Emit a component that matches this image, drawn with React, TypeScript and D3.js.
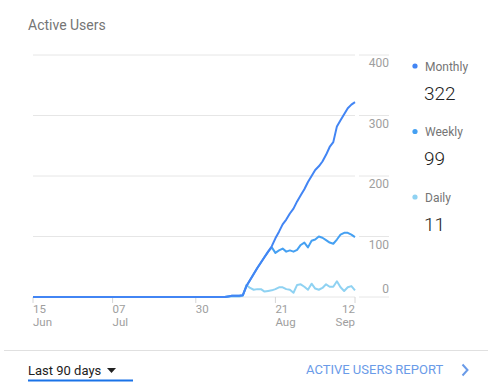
import * as d3 from "d3";

// 90 days, 15 Jun .. 12 Sep
const startDate = new Date(2018, 5, 15);

const monthly = [
  0, 0, 0, 0, 0, 0, 0, 0, 0, 0, 0, 0, 0, 0, 0, 0, 0, 0, 0, 0,
  0, 0, 0, 0, 0, 0, 0, 0, 0, 0, 0, 0, 0, 0, 0, 0, 0, 0, 0, 0,
  0, 0, 0, 0, 0, 0, 0, 0, 0, 0, 0, 0, 0, 0, 1, 2, 2, 2, 3, 18,
  28, 38, 48, 57, 66, 75, 84, 97, 108, 120, 128, 138, 146, 158, 168, 178, 190, 200, 210, 216,
  224, 235, 248, 256, 282, 292, 302, 312, 318, 322,
];

const weekly = [
  0, 0, 0, 0, 0, 0, 0, 0, 0, 0, 0, 0, 0, 0, 0, 0, 0, 0, 0, 0,
  0, 0, 0, 0, 0, 0, 0, 0, 0, 0, 0, 0, 0, 0, 0, 0, 0, 0, 0, 0,
  0, 0, 0, 0, 0, 0, 0, 0, 0, 0, 0, 0, 0, 0, 1, 2, 2, 2, 3, 18,
  28, 38, 48, 57, 66, 75, 82, 73, 77, 80, 75, 77, 75, 78, 86, 90, 82, 93, 95, 100,
  98, 94, 90, 88, 95, 103, 106, 106, 103, 99,
];

const daily = [
  0, 0, 0, 0, 0, 0, 0, 0, 0, 0, 0, 0, 0, 0, 0, 0, 0, 0, 0, 0,
  0, 0, 0, 0, 0, 0, 0, 0, 0, 0, 0, 0, 0, 0, 0, 0, 0, 0, 0, 0,
  0, 0, 0, 0, 0, 0, 0, 0, 0, 0, 0, 0, 0, 0, 1, 1, 1, 1, 2, 20,
  15, 12, 13, 13, 9, 10, 11, 13, 16, 16, 13, 12, 7, 20, 21, 17, 12, 22, 14, 12,
  15, 21, 17, 17, 26, 16, 10, 16, 18, 11,
];

const seriesNames = ["Monthly", "Weekly", "Daily"];
const seriesColors = ["#4285f4", "#45a0f2", "#8fd2f2"];
const yTicks = [0, 100, 200, 300, 400];
const xTickDays = ["15", "07", "30", "21", "12"];
const xTickMonths = ["Jun", "Jul", "", "Aug", "Sep"];
const xTickDates = [
  new Date(2018, 5, 15),
  new Date(2018, 6, 7),
  new Date(2018, 6, 30),
  new Date(2018, 7, 21),
  new Date(2018, 8, 12),
];

const font = "Roboto, sans-serif";

export default function App() {
  const width = 488;
  const height = 387;

  const x = d3
    .scaleTime()
    .domain([startDate, d3.timeDay.offset(startDate, monthly.length - 1)])
    .range([33, 355]);
  const y = d3.scaleLinear().domain([0, 400]).range([297, 55]);

  const line = d3
    .line<number>()
    .x((_, i) => x(d3.timeDay.offset(startDate, i)))
    .y((d) => y(d));

  const allSeries = [daily, weekly, monthly];
  const allColors = [seriesColors[2], seriesColors[1], seriesColors[0]];

  return (
    <svg
      width={width}
      height={height}
      style={{ position: "absolute", left: 0, top: 0, fontFamily: font }}
    >
      <rect width={width} height={height} fill="#fff" />
      <text x={28} y={30} fontSize={14} fill="#757575">
        Active Users
      </text>

      {/* grid */}
      {yTicks.map((t) => (
        <g key={t}>
          <line x1={33} x2={355} y1={y(t)} y2={y(t)} stroke="#e6e6e6" />
          <line x1={359} x2={389} y1={y(t)} y2={y(t)} stroke="#e6e6e6" />
          <text
            x={389}
            y={t === 0 ? y(t) - 4 : y(t) + 12}
            textAnchor="end"
            fontSize={12}
            fill="#9e9e9e"
          >
            {t}
          </text>
        </g>
      ))}

      {/* x axis */}
      {xTickDates.map((d, i) => {
        const anchor = i === xTickDates.length - 1 ? "end" : "start";
        return (
          <g key={i}>
            <line x1={x(d)} x2={x(d)} y1={297} y2={303} stroke="#d6d6d6" />
            <text x={x(d)} y={313} textAnchor={anchor} fontSize={11.5} fill="#9e9e9e">
              {xTickDays[i]}
            </text>
            <text x={x(d)} y={326} textAnchor={anchor} fontSize={11.5} fill="#9e9e9e">
              {xTickMonths[i]}
            </text>
          </g>
        );
      })}

      {/* lines */}
      {allSeries.map((s, i) => (
        <path
          key={i}
          d={line(s) ?? ""}
          fill="none"
          stroke={allColors[i]}
          strokeWidth={2}
          strokeLinejoin="round"
        />
      ))}

      {/* legend */}
      {seriesNames.map((name, i) => {
        const series = [monthly, weekly, daily][i];
        const top = 66 + i * 65.5;
        return (
          <g key={name}>
            <circle cx={415} cy={top} r={2.6} fill={seriesColors[i]} />
            <text x={425} y={top + 4.5} fontSize={12} fill="#757575">
              {name}
            </text>
            <text x={424} y={top + 33.5} fontSize={19} fontWeight={300} fill="#212121">
              {series[series.length - 1]}
            </text>
          </g>
        );
      })}

      {/* footer */}
      <line x1={4} x2={488} y1={350.5} y2={350.5} stroke="#e0e0e0" />
      <text x={28} y={375} fontSize={13} fill="#212121">
        Last 90 days
      </text>
      <path d="M107,368 L116,368 L111.5,373 Z" fill="#212121" />
      <rect x={28} y={379.5} width={105} height={2} fill="#1a73e8" />
      <text x={306} y={374} fontSize={13} fill="#6a9be8">
        ACTIVE USERS REPORT
      </text>
      <path
        d="M462.5,364.5 L467.5,370 L462.5,375.5"
        fill="none"
        stroke="#6a9be8"
        strokeWidth={2}
      />
    </svg>
  );
}
